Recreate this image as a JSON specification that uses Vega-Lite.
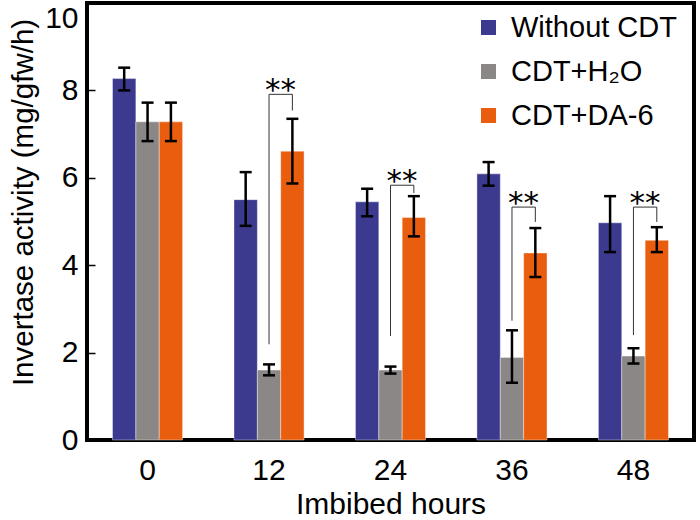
{
  "$schema": "https://vega.github.io/schema/vega-lite/v6.json",
  "width": 607,
  "height": 437,
  "autosize": {"type": "none"},
  "padding": {"left": 87, "top": 3, "right": 6, "bottom": 80},
  "background": "white",
  "config": {
    "view": {"stroke": "black", "strokeWidth": 4},
    "font": "Liberation Sans",
    "axis": {"grid": false, "labelFont": "Liberation Sans", "titleFont": "Liberation Sans", "labelColor": "black", "titleColor": "black", "titleFontWeight": "normal"}
  },
  "datasets": {
    "bars": [
      {"hours": "0", "treatment": "Without CDT", "mean": 8.27, "lo": 8.0, "hi": 8.52},
      {"hours": "0", "treatment": "CDT+H₂O", "mean": 7.28, "lo": 6.84, "hi": 7.72},
      {"hours": "0", "treatment": "CDT+DA-6", "mean": 7.28, "lo": 6.84, "hi": 7.72},
      {"hours": "12", "treatment": "Without CDT", "mean": 5.5, "lo": 4.9, "hi": 6.13},
      {"hours": "12", "treatment": "CDT+H₂O", "mean": 1.6, "lo": 1.48, "hi": 1.73},
      {"hours": "12", "treatment": "CDT+DA-6", "mean": 6.61, "lo": 5.87, "hi": 7.35},
      {"hours": "24", "treatment": "Without CDT", "mean": 5.45, "lo": 5.12, "hi": 5.75},
      {"hours": "24", "treatment": "CDT+H₂O", "mean": 1.6, "lo": 1.52, "hi": 1.68},
      {"hours": "24", "treatment": "CDT+DA-6", "mean": 5.09, "lo": 4.66, "hi": 5.58},
      {"hours": "36", "treatment": "Without CDT", "mean": 6.09, "lo": 5.82, "hi": 6.36},
      {"hours": "36", "treatment": "CDT+H₂O", "mean": 1.89, "lo": 1.31, "hi": 2.51},
      {"hours": "36", "treatment": "CDT+DA-6", "mean": 4.28, "lo": 3.73, "hi": 4.85},
      {"hours": "48", "treatment": "Without CDT", "mean": 4.97, "lo": 4.3, "hi": 5.58},
      {"hours": "48", "treatment": "CDT+H₂O", "mean": 1.92, "lo": 1.75, "hi": 2.1},
      {"hours": "48", "treatment": "CDT+DA-6", "mean": 4.57, "lo": 4.3, "hi": 4.87}
    ],
    "brackets": [
      {"hours": "12", "treatment": "CDT+H₂O", "v": 2.19, "seq": 1},
      {"hours": "12", "treatment": "CDT+H₂O", "v": 7.91, "seq": 2},
      {"hours": "12", "treatment": "CDT+DA-6", "v": 7.91, "seq": 3},
      {"hours": "12", "treatment": "CDT+DA-6", "v": 7.54, "seq": 4},
      {"hours": "24", "treatment": "CDT+H₂O", "v": 2.38, "seq": 1},
      {"hours": "24", "treatment": "CDT+H₂O", "v": 5.83, "seq": 2},
      {"hours": "24", "treatment": "CDT+DA-6", "v": 5.83, "seq": 3},
      {"hours": "24", "treatment": "CDT+DA-6", "v": 5.65, "seq": 4},
      {"hours": "36", "treatment": "CDT+H₂O", "v": 2.73, "seq": 1},
      {"hours": "36", "treatment": "CDT+H₂O", "v": 5.33, "seq": 2},
      {"hours": "36", "treatment": "CDT+DA-6", "v": 5.33, "seq": 3},
      {"hours": "36", "treatment": "CDT+DA-6", "v": 4.99, "seq": 4},
      {"hours": "48", "treatment": "CDT+H₂O", "v": 2.4, "seq": 1},
      {"hours": "48", "treatment": "CDT+H₂O", "v": 5.33, "seq": 2},
      {"hours": "48", "treatment": "CDT+DA-6", "v": 5.33, "seq": 3},
      {"hours": "48", "treatment": "CDT+DA-6", "v": 4.99, "seq": 4}
    ],
    "stars": [
      {"hours": "12", "v": 7.91, "label": "**"},
      {"hours": "24", "v": 5.83, "label": "**"},
      {"hours": "36", "v": 5.33, "label": "**"},
      {"hours": "48", "v": 5.33, "label": "**"}
    ]
  },
  "encoding": {
    "x": {
      "field": "hours", "type": "nominal", "sort": null,
      "scale": {"domain": ["0", "12", "24", "36", "48"], "paddingInner": 0.423, "paddingOuter": 0.21},
      "axis": {"title": "Imbibed hours", "labelAngle": 0, "labelFontSize": 30, "titleFontSize": 30, "ticks": false, "domain": false, "labelPadding": 15, "titleBaseline": "alphabetic", "titleY": 73}
    }
  },
  "layer": [
    {
      "data": {"name": "bars"},
      "mark": {"type": "bar", "stroke": "white", "strokeWidth": 0.4},
      "encoding": {
        "xOffset": {"field": "treatment", "type": "nominal", "sort": null, "scale": {"domain": ["Without CDT", "CDT+H₂O", "CDT+DA-6"], "paddingInner": 0, "paddingOuter": 0}},
        "y": {
          "field": "mean", "type": "quantitative",
          "scale": {"domain": [0, 10], "nice": false},
          "axis": {"title": "Invertase activity (mg/gfw/h)", "values": [0, 2, 4, 6, 8, 10], "labelFontSize": 30, "titleFontSize": 29.5, "domain": false, "tickSize": -8, "tickWidth": 1.5, "tickColor": "black", "labelPadding": 17, "labelFlush": false, "labelBaseline": {"condition": {"test": "datum.value == 10", "value": "top"}, "value": "middle"}, "titleAngle": 270, "titleAlign": "center", "titleBaseline": "alphabetic", "titleX": -55, "titleY": 199}
        },
        "color": {
          "field": "treatment", "type": "nominal", "sort": null,
          "scale": {"domain": ["Without CDT", "CDT+H₂O", "CDT+DA-6"], "range": ["#3B3A8E", "#8B8786", "#E85E0E"]},
          "legend": {"title": null, "orient": "none", "legendX": 387, "legendY": 10, "symbolType": "square", "symbolSize": 225, "symbolStrokeWidth": 0, "labelFontSize": 29, "labelFont": "Liberation Sans", "labelColor": "black", "labelOffset": 8, "labelLimit": 0, "rowPadding": 14, "padding": 0}
        }
      }
    },
    {
      "data": {"name": "bars"},
      "mark": {"type": "rule", "color": "black", "strokeWidth": 2.5},
      "encoding": {
        "xOffset": {"field": "treatment", "type": "nominal", "sort": null},
        "y": {"field": "lo", "type": "quantitative"},
        "y2": {"field": "hi"}
      }
    },
    {
      "data": {"name": "bars"},
      "mark": {"type": "tick", "color": "black", "thickness": 2.5, "size": 12, "opacity": 1},
      "encoding": {
        "xOffset": {"field": "treatment", "type": "nominal", "sort": null},
        "y": {"field": "hi", "type": "quantitative"}
      }
    },
    {
      "data": {"name": "bars"},
      "mark": {"type": "tick", "color": "black", "thickness": 2.5, "size": 12, "opacity": 1},
      "encoding": {
        "xOffset": {"field": "treatment", "type": "nominal", "sort": null},
        "y": {"field": "lo", "type": "quantitative"}
      }
    },
    {
      "data": {"name": "brackets"},
      "mark": {"type": "line", "color": "#333333", "strokeWidth": 1},
      "encoding": {
        "xOffset": {"field": "treatment", "type": "nominal", "sort": null},
        "y": {"field": "v", "type": "quantitative"},
        "detail": {"field": "hours"},
        "order": {"field": "seq", "type": "quantitative"}
      }
    },
    {
      "data": {"name": "stars"},
      "mark": {"type": "text", "font": "DejaVu Sans", "fontSize": 31, "baseline": "alphabetic", "align": "center", "dx": 11.5, "dy": 6, "color": "black"},
      "encoding": {
        "y": {"field": "v", "type": "quantitative"},
        "text": {"field": "label"}
      }
    }
  ]
}
